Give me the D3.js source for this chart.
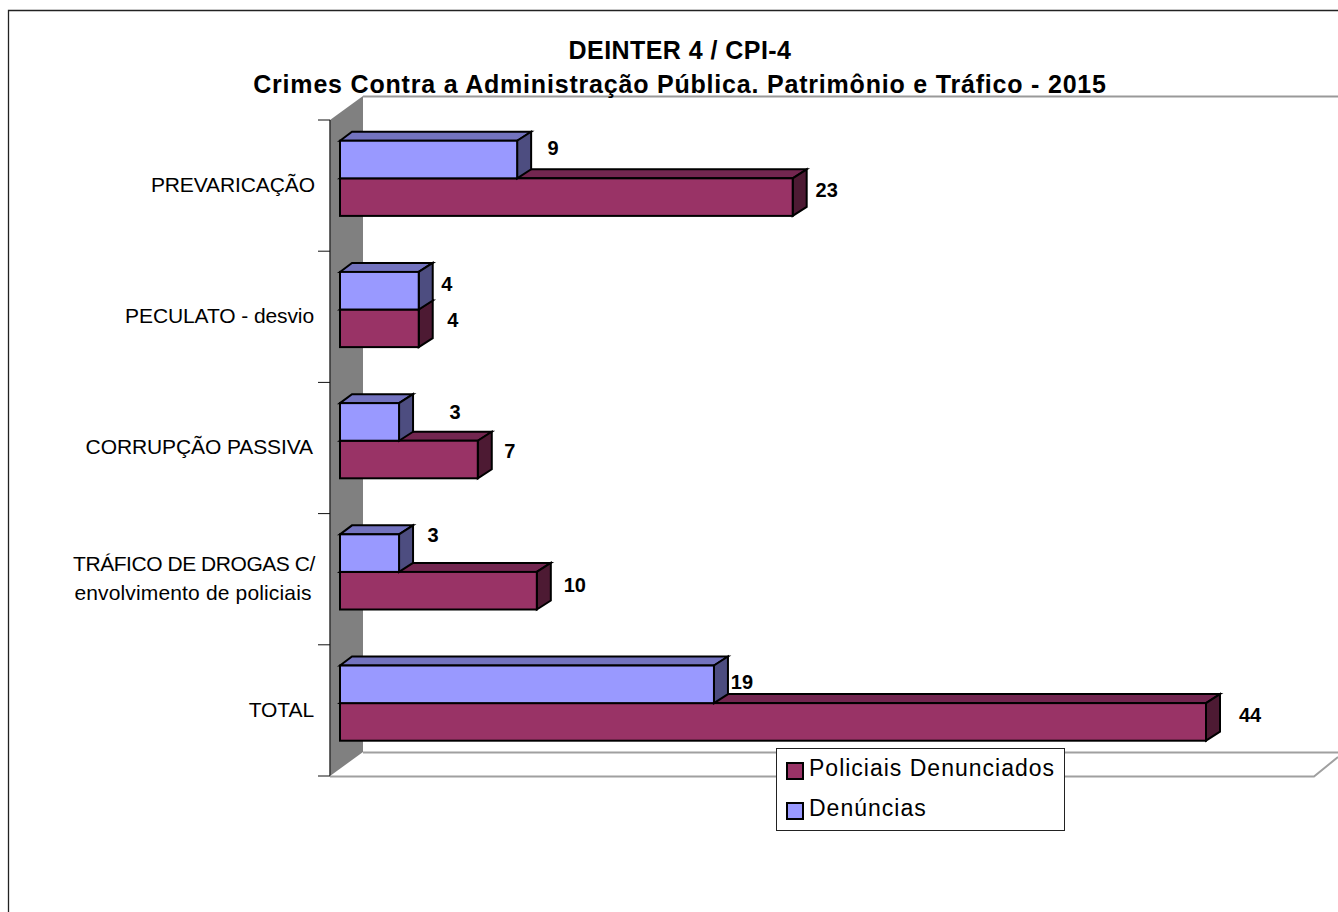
<!DOCTYPE html>
<html><head><meta charset="utf-8">
<script src="https://cdn.jsdelivr.net/npm/d3@7/dist/d3.min.js"></script>
<style>html,body{margin:0;padding:0;background:#fff;overflow:hidden}svg{display:block}text{font-family:"Liberation Sans",Arial,sans-serif;fill:#000}</style>
</head><body><svg id="c" width="1338" height="912"></svg>
<script>
const titleLines = ["DEINTER 4 / CPI-4", "Crimes Contra a Administração Pública. Patrimônio e Tráfico - 2015"];
const categories = ["PREVARICAÇÃO", "PECULATO - desvio", "CORRUPÇÃO PASSIVA", "TRÁFICO DE DROGAS C/\nenvolvimento de policiais", "TOTAL"];
const seriesNames = ["Policiais Denunciados", "Denúncias"];
const policiaisDenunciados = [23, 4, 7, 10, 44];
const denuncias = [9, 4, 3, 3, 19];
// label nudges relative to the end of each bar
const nudgePoliciais = [[34,-7],[34,-8],[32,-8],[38,-5],[44,-6]];
const nudgeDenuncias = [[36,-11],[28,-6],[56,-9],[34,-18],[28,-2]];

const svg = d3.select("#c");
const x = d3.scaleLinear().domain([0,44]).range([340,1206]);
const y = d3.scaleBand().domain(categories).range([120,776]).paddingInner(0.427).paddingOuter(0.2135).align(0.37);
const sub = d3.scaleBand().domain(["Denúncias","Policiais Denunciados"]).range([0,y.bandwidth()]);
const dx = 14, dy = -9;
const wallX = 330, wallBack = 363;
const pts = a => a.map(p=>p.join(",")).join(" ");

// frame
svg.append("path").attr("d","M8.5,912V10.5H1338").attr("fill","none").attr("stroke","#222").attr("stroke-width",1.3);

// walls and floor
svg.append("path").attr("d",`M${wallBack},96.5H1338`).attr("stroke","#999").attr("stroke-width",2).attr("fill","none");
svg.append("polygon").attr("points",pts([[wallX,120],[wallBack,96],[wallBack,752],[wallX,776]])).attr("fill","#808080");
svg.append("path").attr("d",`M${wallX},120V776`).attr("stroke","#333").attr("stroke-width",1.5);
svg.append("path").attr("d",`M${wallBack},752.5H1338M${wallX},776.5H1314L1338,757`).attr("stroke","#a0a0a0").attr("stroke-width",2).attr("fill","none");

// ticks
const edges = categories.map((c,i)=>120+i*y.step()).concat([776]);
svg.selectAll(".t").data(edges).join("path").attr("d",d=>`M318,${d}H${wallX}`).attr("stroke","#111").attr("stroke-width",1);

// category labels
const nudgeCat = [0,-1,-2,0,-1];
const lineSpacing = [-0.45, 0.15];
categories.forEach((c,i)=>{
  const lines = c.split("\n"), cy = y(c)+y.bandwidth()/2;
  const t = svg.append("text").attr("font-size",21).attr("letter-spacing",-0.1);
  if(lines.length===1){
    t.attr("x",315+nudgeCat[i]).attr("y",cy+13.5).attr("text-anchor","end").text(c);
  } else {
    lines.forEach((l,j)=>t.append("tspan").attr("x",j?193:194).attr("y",cy-1+j*29).attr("text-anchor","middle").attr("letter-spacing",lineSpacing[j]).text(l));
  }
});

function bar(g,x1,top,h,front,topC,side){
  const x0 = x(0), yb = top+h;
  g.append("polygon").attr("points",pts([[x0,top],[x0+dx-2,top+dy],[x1+dx,top+dy],[x1,top]])).attr("fill",topC);
  g.append("polygon").attr("points",pts([[x1,top],[x1+dx,top+dy],[x1+dx,yb+dy],[x1,yb]])).attr("fill",side);
  g.append("rect").attr("x",x0).attr("y",top).attr("width",x1-x0).attr("height",h).attr("fill",front);
  g.selectAll("*").attr("stroke","#000").attr("stroke-width",2).attr("stroke-linejoin","miter");
}
categories.forEach((c,i)=>{
  const g = svg.append("g");
  bar(g.append("g"),x(policiaisDenunciados[i]),y(c)+sub("Policiais Denunciados"),sub.bandwidth(),"#993366","#732650","#4d1a33");
  bar(g.append("g"),x(denuncias[i]),y(c)+sub("Denúncias"),sub.bandwidth(),"#9999ff","#7373bf","#4d4d80");
});

// value labels
function vals(arr,nudge,key){
  categories.forEach((c,i)=>{
    svg.append("text").attr("x",x(arr[i])+nudge[i][0]).attr("y",y(c)+sub(key)+sub.bandwidth()/2+nudge[i][1]+6.5)
      .attr("text-anchor","middle").attr("font-size",20).attr("font-weight","bold").text(arr[i]);
  });
}
vals(policiaisDenunciados,nudgePoliciais,"Policiais Denunciados");
vals(denuncias,nudgeDenuncias,"Denúncias");

// title
const titleSpacing = [0.45, 0.8];
titleLines.forEach((l,i)=>svg.append("text").attr("x",680).attr("y",59+i*34).attr("text-anchor","middle").attr("font-size",25).attr("font-weight","bold").attr("letter-spacing",titleSpacing[i]).text(l));

// legend
const leg = svg.append("g");
leg.append("rect").attr("x",776.5).attr("y",748.5).attr("width",288).attr("height",82).attr("fill","#fff").attr("stroke","#222").attr("stroke-width",1);
seriesNames.forEach((n,i)=>{
  leg.append("rect").attr("x",787).attr("y",763+i*40).attr("width",16).attr("height",16).attr("fill",i?"#9999ff":"#993366").attr("stroke","#000").attr("stroke-width",2);
  leg.append("text").attr("x",809).attr("y",776+i*40).attr("font-size",23).attr("letter-spacing",1).text(n);
});
</script></body></html>
